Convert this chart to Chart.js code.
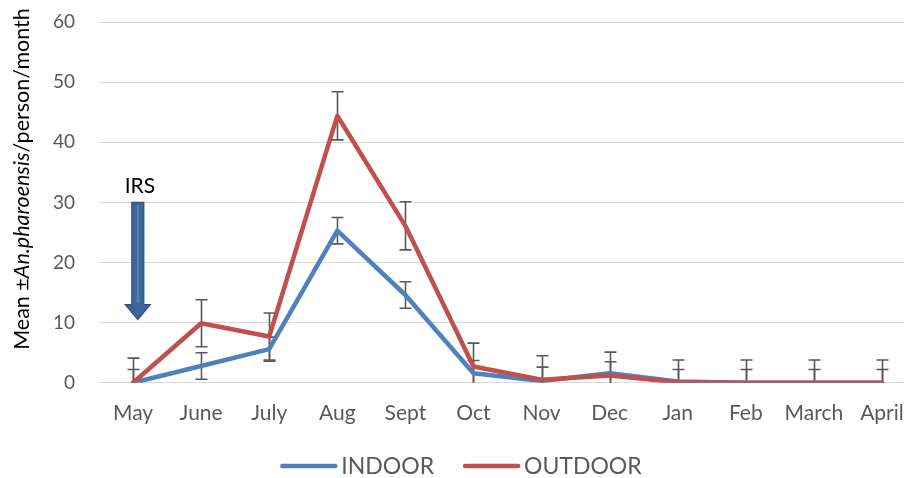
<!DOCTYPE html>
<html>
<head>
<meta charset="utf-8">
<script src="https://cdn.jsdelivr.net/npm/chart.js@4.4.1/dist/chart.umd.min.js"></script>
<style>
  html, body { margin: 0; padding: 0; background: #fff; overflow: hidden; width: 904px; height: 478px; }
  #wrap { width: 920px; height: 478px; }
</style>
</head>
<body>
<div id="wrap"><canvas id="c" width="920" height="478"></canvas></div>
<script>
// Monthly mean An. pharoensis per person, with error bar half-widths
const months = ['May', 'June', 'July', 'Aug', 'Sept', 'Oct', 'Nov', 'Dec', 'Jan', 'Feb', 'March', 'April'];
const indoorMean  = [0, 2.8, 5.6, 25.3, 14.6, 1.6, 0.3, 1.6, 0.2, 0, 0, 0];
const outdoorMean = [0, 9.9, 7.7, 44.4, 26.1, 2.7, 0.5, 1.2, 0.1, 0, 0, 0];
const indoorErr   = [2.2, 2.2, 2.0, 2.2, 2.2, 2.1, 2.3, 1.9, 2.0, 2.2, 2.2, 2.2];
const outdoorErr  = [4.1, 3.9, 3.9, 4.0, 4.0, 3.9, 4.0, 3.9, 3.7, 3.8, 3.8, 3.8];
const yTicks = [0, 10, 20, 30, 40, 50, 60];
const seriesNames = ['INDOOR', 'OUTDOOR'];
// IRS marker: label and arrow anchored in data units (category index, value)
const irsLabel = 'IRS';
const irsLabelAt = [0.1, 32.7];
const irsArrow = { x: 0.07, from: 30, to: 10.5 };

const FONT = 'Lato, "Open Sans", sans-serif';
const GREY = '#595959';
const BLUE = '#4F81BD';
const RED = '#C0504D';

// Vertical error bars with caps, drawn under the lines
const errorBars = {
  id: 'errorBars',
  beforeDatasetsDraw(chart) {
    const { ctx, chartArea, scales: { x, y } } = chart;
    ctx.save();
    ctx.beginPath();
    ctx.rect(chartArea.left, chartArea.top - 2, chartArea.width, chartArea.height + 2);
    ctx.clip();
    ctx.strokeStyle = GREY;
    ctx.lineWidth = 1.6;
    chart.data.datasets.forEach(ds => {
      ds.errors.forEach((e, i) => {
        const v = ds.data[i];
        const px = Math.round(x.getPixelForValue(i)) + 0.5;
        const top = y.getPixelForValue(v + e);
        const bot = y.getPixelForValue(v - e);
        ctx.beginPath();
        ctx.moveTo(px, top); ctx.lineTo(px, bot);
        ctx.moveTo(px - 6, top); ctx.lineTo(px + 6, top);
        ctx.moveTo(px - 6, bot); ctx.lineTo(px + 6, bot);
        ctx.stroke();
      });
    });
    ctx.restore();
  }
};

// IRS annotation, rotated axis title and legend
const decorations = {
  id: 'decorations',
  afterDraw(chart) {
    const { ctx, chartArea, scales: { x, y } } = chart;
    ctx.save();

    // IRS label
    ctx.fillStyle = '#000';
    ctx.font = '21px ' + FONT;
    ctx.textAlign = 'center';
    ctx.textBaseline = 'middle';
    ctx.fillText(irsLabel, x.getPixelForValue(irsLabelAt[0]), y.getPixelForValue(irsLabelAt[1]));

    // Downward arrow
    const ax = x.getPixelForValue(irsArrow.x);
    const aTop = y.getPixelForValue(irsArrow.from);
    const aBot = y.getPixelForValue(irsArrow.to);
    const headH = 15, shaftW = 12, headW = 25;
    ctx.beginPath();
    ctx.moveTo(ax - shaftW / 2, aTop);
    ctx.lineTo(ax + shaftW / 2, aTop);
    ctx.lineTo(ax + shaftW / 2, aBot - headH);
    ctx.lineTo(ax + headW / 2, aBot - headH);
    ctx.lineTo(ax, aBot);
    ctx.lineTo(ax - headW / 2, aBot - headH);
    ctx.lineTo(ax - shaftW / 2, aBot - headH);
    ctx.closePath();
    ctx.fillStyle = '#3d679b';
    ctx.fill();
    ctx.strokeStyle = '#2c4f7e';
    ctx.lineWidth = 1.2;
    ctx.stroke();
    ctx.beginPath();
    ctx.moveTo(ax, aTop + 3);
    ctx.lineTo(ax, aBot - headH - 2);
    ctx.strokeStyle = 'rgba(120,160,210,0.45)';
    ctx.lineWidth = 2;
    ctx.stroke();

    // Y axis title with italic species name
    const parts = [
      { t: 'Mean \u00B1', f: '21.5px ' + FONT },
      { t: 'An.pharoensis', f: 'italic 21.5px ' + FONT },
      { t: '/person/month', f: '21.5px ' + FONT }
    ];
    let total = 0;
    parts.forEach(p => { ctx.font = p.f; p.w = ctx.measureText(p.t).width; total += p.w; });
    ctx.translate(22, chartArea.top + 157);
    ctx.rotate(-Math.PI / 2);
    ctx.fillStyle = '#000';
    ctx.textAlign = 'left';
    ctx.textBaseline = 'middle';
    let cx = -total / 2;
    parts.forEach(p => { ctx.font = p.f; ctx.fillText(p.t, cx, 0); cx += p.w; });
    ctx.setTransform(1, 0, 0, 1, 0, 0);

    // Legend
    const ly = 466, lineW = 57, gapText = 4, gapItem = 29;
    ctx.font = '23px ' + FONT;
    const items = chart.data.datasets.map(ds => ({ label: ds.label, color: ds.borderColor, w: ctx.measureText(ds.label).width }));
    let lw = 0;
    items.forEach((it, i) => { lw += lineW + gapText + it.w + (i ? gapItem : 0); });
    let lx = chart.width / 2 + 1 - lw / 2;
    items.forEach((it, i) => {
      if (i) lx += gapItem;
      ctx.beginPath();
      ctx.moveTo(lx + 2, ly); ctx.lineTo(lx + lineW - 2, ly);
      ctx.strokeStyle = it.color;
      ctx.lineWidth = 4.5;
      ctx.lineCap = 'round';
      ctx.stroke();
      lx += lineW + gapText;
      ctx.fillStyle = GREY;
      ctx.textAlign = 'left';
      ctx.textBaseline = 'middle';
      ctx.fillText(it.label, lx, ly + 1);
      lx += it.w;
    });
    ctx.restore();
  }
};

new Chart(document.getElementById('c'), {
  type: 'line',
  data: {
    labels: months,
    datasets: [
      { label: seriesNames[0], data: indoorMean, errors: indoorErr, borderColor: BLUE, order: 1 },
      { label: seriesNames[1], data: outdoorMean, errors: outdoorErr, borderColor: RED, order: 0 }
    ]
  },
  options: {
    responsive: false,
    animation: false,
    devicePixelRatio: 1,
    layout: { padding: { left: 0, right: 4, top: 22, bottom: 34 } },
    elements: {
      line: { borderWidth: 4.5, tension: 0, borderCapStyle: 'round', borderJoinStyle: 'round', fill: false },
      point: { radius: 0, hoverRadius: 0 }
    },
    plugins: { legend: { display: false }, tooltip: { enabled: false } },
    scales: {
      x: {
        offset: true,
        afterFit(scale) { scale.paddingLeft = 0; scale.paddingRight = 0; },
        grid: { display: false, drawTicks: false },
        border: { display: false },
        ticks: { color: GREY, font: { family: FONT, size: 21 }, padding: 18, maxRotation: 0, autoSkip: false }
      },
      y: {
        min: 0, max: 60,
        afterBuildTicks(scale) { scale.ticks = yTicks.map(v => ({ value: v })); },
        afterFit(scale) { scale.width = 99; scale.paddingTop = 0; scale.paddingBottom = 0; },
        grid: { color: '#d9d9d9', lineWidth: 1, drawTicks: false },
        border: { display: false },
        ticks: { color: GREY, font: { family: FONT, size: 19 }, padding: 24 }
      }
    }
  },
  plugins: [errorBars, decorations]
});
</script>
</body>
</html>
